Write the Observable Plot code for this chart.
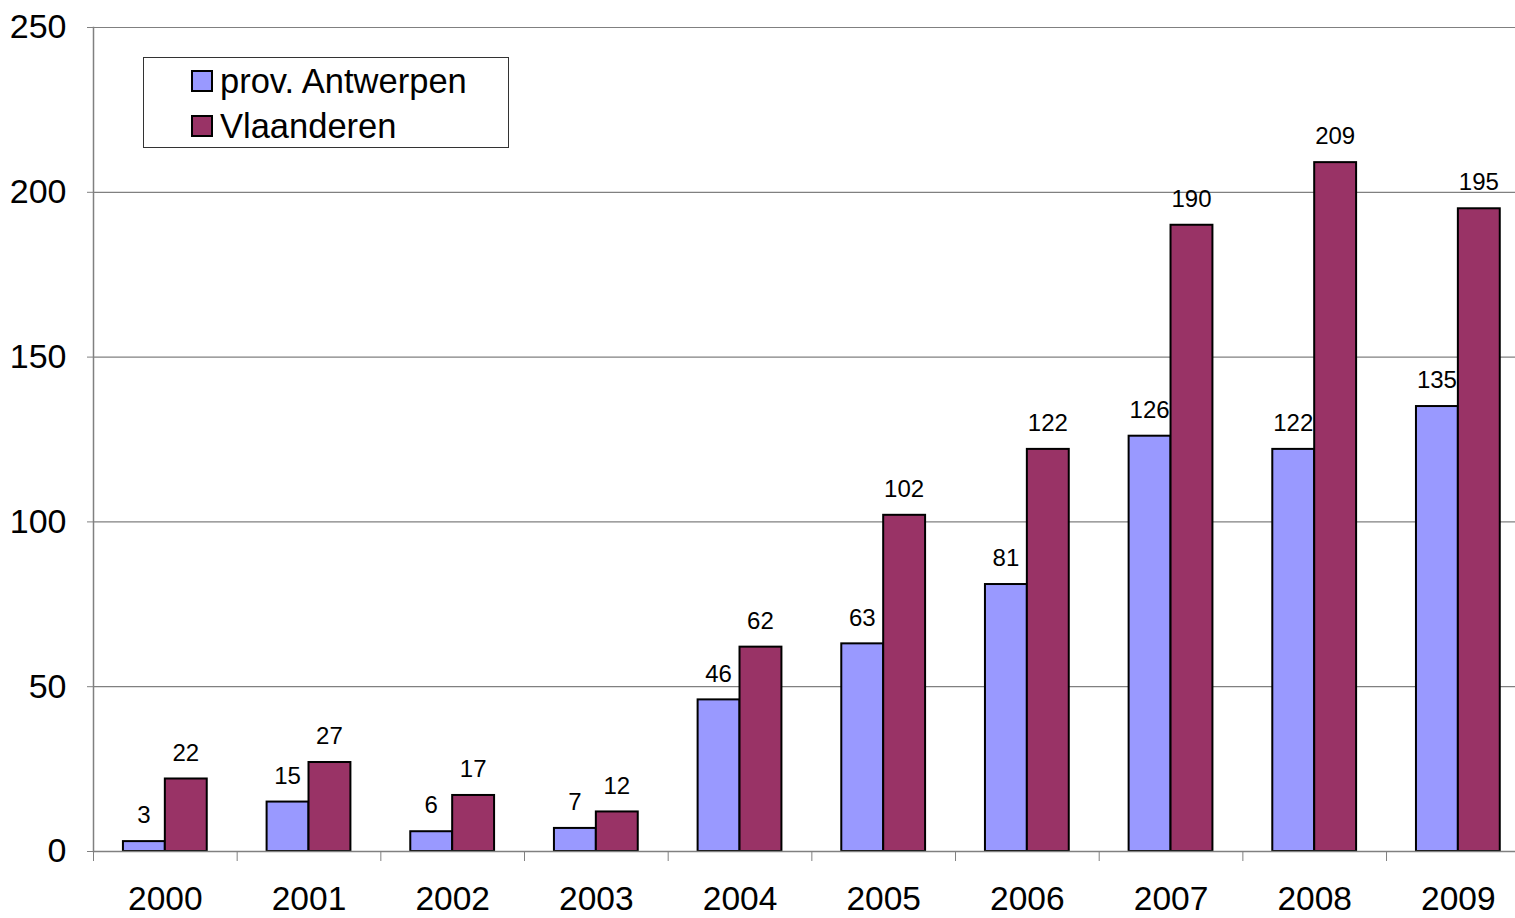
<!DOCTYPE html>
<html>
<head>
<meta charset="utf-8">
<script src="https://cdn.jsdelivr.net/npm/d3@7"></script>
<script src="https://cdn.jsdelivr.net/npm/@observablehq/plot@0.6"></script>
<style>
  html, body { margin: 0; padding: 0; background: #fff; overflow: hidden; }
  #wrap { position: relative; width: 1515px; height: 918px; font-family: "Liberation Sans", Arial, sans-serif; }
  #wrap svg { overflow: hidden; }
  #legend { position: absolute; left: 143px; top: 57px; width: 366px; height: 91px; border: 1px solid #333; background: #fff; box-sizing: border-box; }
  .item { position: absolute; left: 47px; display: flex; align-items: center; font-size: 34.5px; line-height: 1; color: #000; }
  .sw { width: 18px; height: 18px; border: 2px solid #000; margin-right: 7px; }
</style>
</head>
<body>
<div id="wrap"></div>
<script>
const years = ["2000","2001","2002","2003","2004","2005","2006","2007","2008","2009"];
const antwerpen = [3, 15, 6, 7, 46, 63, 81, 126, 122, 135];
const vlaanderen = [22, 27, 17, 12, 62, 102, 122, 190, 209, 195];
const seriesNames = ["prov. Antwerpen", "Vlaanderen"];
const seriesColors = ["#9999FF", "#993366"];
const yTicks = [0, 50, 100, 150, 200, 250];

const data = years.map((year, i) => ({year, antwerpen: antwerpen[i], vlaanderen: vlaanderen[i]}));

const step = 143.67;
const half = step * (84 / 144) / 2;

const chart = Plot.plot({
  width: 1515,
  height: 918,
  marginLeft: 93,
  marginRight: 0,
  marginTop: 27,
  marginBottom: 67,
  style: {fontFamily: "'Liberation Sans', Arial, sans-serif", fontSize: "24px", color: "#000", background: "#fff"},
  x: {type: "band", domain: years, range: [93, 93 + step * years.length], paddingInner: 60 / 144, paddingOuter: 30 / 144, round: false},
  y: {domain: [0, 250]},
  marks: [
    Plot.ruleY(yTicks.filter(d => d > 0), {stroke: "#808080", strokeWidth: 1.2}),
    Plot.barY(data, {x: "year", y: "antwerpen", fill: seriesColors[0], stroke: "#000", strokeWidth: 2, insetRight: half}),
    Plot.barY(data, {x: "year", y: "vlaanderen", fill: seriesColors[1], stroke: "#000", strokeWidth: 2, insetLeft: half}),
    Plot.ruleY([0], {stroke: "#808080", strokeWidth: 1.5}),
    Plot.frame({anchor: "left", stroke: "#808080", strokeWidth: 1.5}),
    Plot.text(data, {x: "year", y: "antwerpen", text: d => String(d.antwerpen), dx: -half / 2 - 0.5, dy: -26, fontSize: 24, fill: "#000"}),
    Plot.text(data, {x: "year", y: "vlaanderen", text: d => String(d.vlaanderen), dx: half / 2 - 0.5, dy: -26, fontSize: 24, fill: "#000"}),
    Plot.axisY({ticks: yTicks, tickSize: 6, tickPadding: 21, fontSize: 34, stroke: "#808080", fill: "#000", label: null}),
    Plot.axisX({tickSize: 10, dx: -step / 2, tickFormat: () => "", stroke: "#808080", label: null}),
    Plot.axisX({tickSize: 0, tickPadding: 35, fontSize: 33.5, fill: "#000", label: null})
  ]
});

const wrap = document.getElementById("wrap");
wrap.appendChild(chart);

const legend = document.createElement("div");
legend.id = "legend";
seriesNames.forEach((name, i) => {
  const item = document.createElement("div");
  item.className = "item";
  item.style.top = (6 + i * 45) + "px";
  const sw = document.createElement("span");
  sw.className = "sw";
  sw.style.background = seriesColors[i];
  const t = document.createElement("span");
  t.textContent = name;
  item.appendChild(sw);
  item.appendChild(t);
  legend.appendChild(item);
});
wrap.appendChild(legend);
</script>
</body>
</html>
